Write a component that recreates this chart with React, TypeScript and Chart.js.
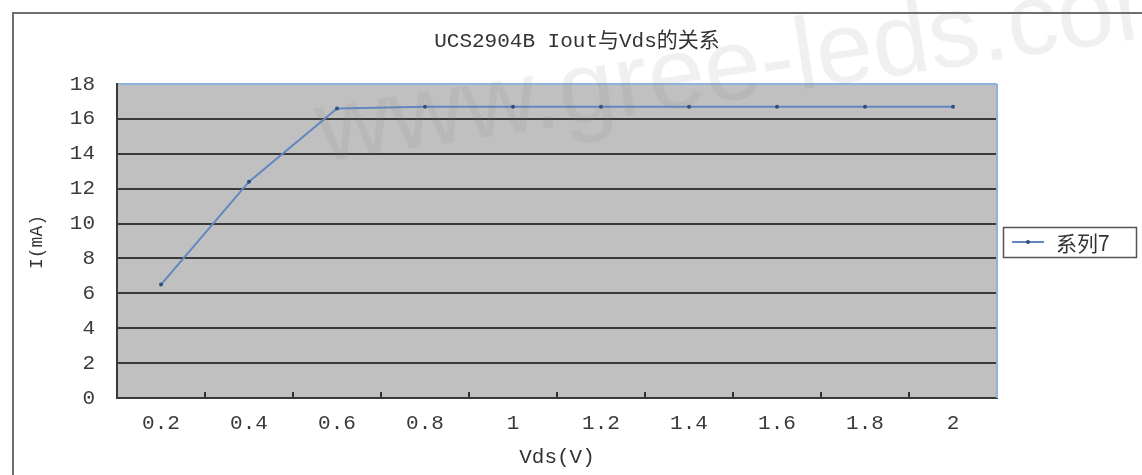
import React, { useEffect, useRef } from "react";
import { Chart, registerables } from "chart.js";

Chart.register(...registerables);

const categories = ["0.2", "0.4", "0.6", "0.8", "1", "1.2", "1.4", "1.6", "1.8", "2"];
const currentMA = [6.5, 12.4, 16.6, 16.7, 16.7, 16.7, 16.7, 16.7, 16.7, 16.7];
const seriesName = "系列7";
const chartTitle = "UCS2904B Iout与Vds的关系";
const xTitle = "Vds(V)";
const yTitle = "I(mA)";
const watermark = "www.gree-leds.com";

const MONO = "'Liberation Mono', 'Noto Sans CJK SC', monospace";
const LINE_COLOR = "#6287c0";

const decorPlugin = {
  id: "decor",
  beforeDraw(chart: any) {
    const { ctx, chartArea: a } = chart;
    ctx.save();
    ctx.fillStyle = "#ffffff";
    ctx.fillRect(0, 0, chart.width, chart.height);
    ctx.strokeStyle = "#6e6e6e";
    ctx.lineWidth = 2;
    ctx.strokeRect(13, 13, chart.width + 20, chart.height + 20);
    ctx.fillStyle = "#c0c0c0";
    ctx.fillRect(a.left, a.top, a.right - a.left, a.bottom - a.top);
    ctx.restore();
  },
  beforeDatasetsDraw(chart: any) {
    const { ctx, chartArea: a } = chart;
    ctx.save();
    ctx.strokeStyle = "#8fb3dc";
    ctx.lineWidth = 2;
    ctx.beginPath();
    ctx.moveTo(a.right, a.top);
    ctx.lineTo(a.right, a.bottom);
    ctx.stroke();
    const n = categories.length;
    const w = (a.right - a.left) / n;
    ctx.strokeStyle = "#333";
    ctx.lineWidth = 2;
    for (let i = 1; i < n; i++) {
      const x = Math.round(a.left + i * w);
      ctx.beginPath();
      ctx.moveTo(x, a.bottom);
      ctx.lineTo(x, a.bottom - 6);
      ctx.stroke();
    }
    ctx.restore();
  },
  afterDraw(chart: any) {
    const { ctx, chartArea: a } = chart;
    ctx.save();
    ctx.fillStyle = "#333";
    ctx.textAlign = "center";
    ctx.textBaseline = "middle";
    ctx.font = `21px ${MONO}`;
    ctx.fillText(chartTitle, 577, 41);
    ctx.fillText(xTitle, (a.left + a.right) / 2, 457);
    ctx.save();
    ctx.translate(37, 242);
    ctx.rotate(-Math.PI / 2);
    ctx.font = `18px ${MONO}`;
    ctx.fillText(yTitle, 0, 0);
    ctx.restore();

    // legend
    ctx.strokeStyle = "#555";
    ctx.lineWidth = 1.5;
    ctx.strokeRect(1003.5, 227.5, 133, 30);
    ctx.strokeStyle = LINE_COLOR;
    ctx.lineWidth = 2;
    ctx.beginPath();
    ctx.moveTo(1012, 242);
    ctx.lineTo(1044, 242);
    ctx.stroke();
    ctx.fillStyle = "#2f4f80";
    ctx.beginPath();
    ctx.arc(1028, 242, 2, 0, Math.PI * 2);
    ctx.fill();
    ctx.fillStyle = "#333";
    ctx.textAlign = "left";
    ctx.font = `21px 'Noto Sans CJK SC', sans-serif`;
    ctx.fillText(seriesName, 1056, 243);

    // watermark
    ctx.save();
    ctx.translate(322, 162);
    ctx.rotate(-0.15);
    ctx.font = `102px 'Liberation Sans', sans-serif`;
    ctx.textAlign = "left";
    ctx.textBaseline = "alphabetic";
    ctx.fillStyle = "rgba(120,120,120,0.11)";
    ctx.fillText(watermark, 0, 0);
    ctx.restore();
    ctx.restore();
  },
};

export default function App() {
  const ref = useRef<HTMLCanvasElement | null>(null);
  useEffect(() => {
    if (!ref.current) return;
    const chart = new Chart(ref.current, {
      type: "line",
      data: {
        labels: categories,
        datasets: [
          {
            label: seriesName,
            data: currentMA,
            borderColor: LINE_COLOR,
            borderWidth: 2,
            pointRadius: 2,
            pointBackgroundColor: "#2f4f80",
            pointBorderColor: "#2f4f80",
            pointBorderWidth: 0,
            tension: 0,
          },
        ],
      },
      options: {
        animation: false,
        responsive: false,
        layout: { padding: { left: 0, right: 145, top: 84, bottom: 0 } },
        plugins: {
          legend: { display: false },
          title: { display: false },
          tooltip: { enabled: false },
        },
        scales: {
          x: {
            type: "category",
            offset: true,
            grid: { display: false, drawTicks: false },
            border: { display: true, color: "#3a3a3a", width: 2 },
            ticks: {
              padding: 13,
              color: "#3a3a3a",
              font: { family: MONO, size: 21 },
              maxRotation: 0,
              autoSkip: false,
            },
            afterFit(scale: any) {
              scale.height = 77;
            },
          },
          y: {
            min: 0,
            max: 18,
            ticks: {
              stepSize: 2,
              padding: 22,
              color: "#3a3a3a",
              font: { family: MONO, size: 21 },
            },
            grid: {
              drawTicks: false,
              lineWidth: 2,
              color: (c: any) => (c.tick && c.tick.value === 18 ? "#8fb3dc" : "#3a3a3a"),
            },
            border: { display: true, color: "#3a3a3a", width: 2 },
            afterFit(scale: any) {
              scale.width = 117;
            },
          },
        },
      },
      plugins: [decorPlugin],
    });
    return () => chart.destroy();
  }, []);
  return (
    <div style={{ position: "fixed", left: 0, top: 0, width: 1142, height: 475 }}>
      <canvas ref={ref} width={1142} height={475} style={{ width: 1142, height: 475 }} />
    </div>
  );
}
